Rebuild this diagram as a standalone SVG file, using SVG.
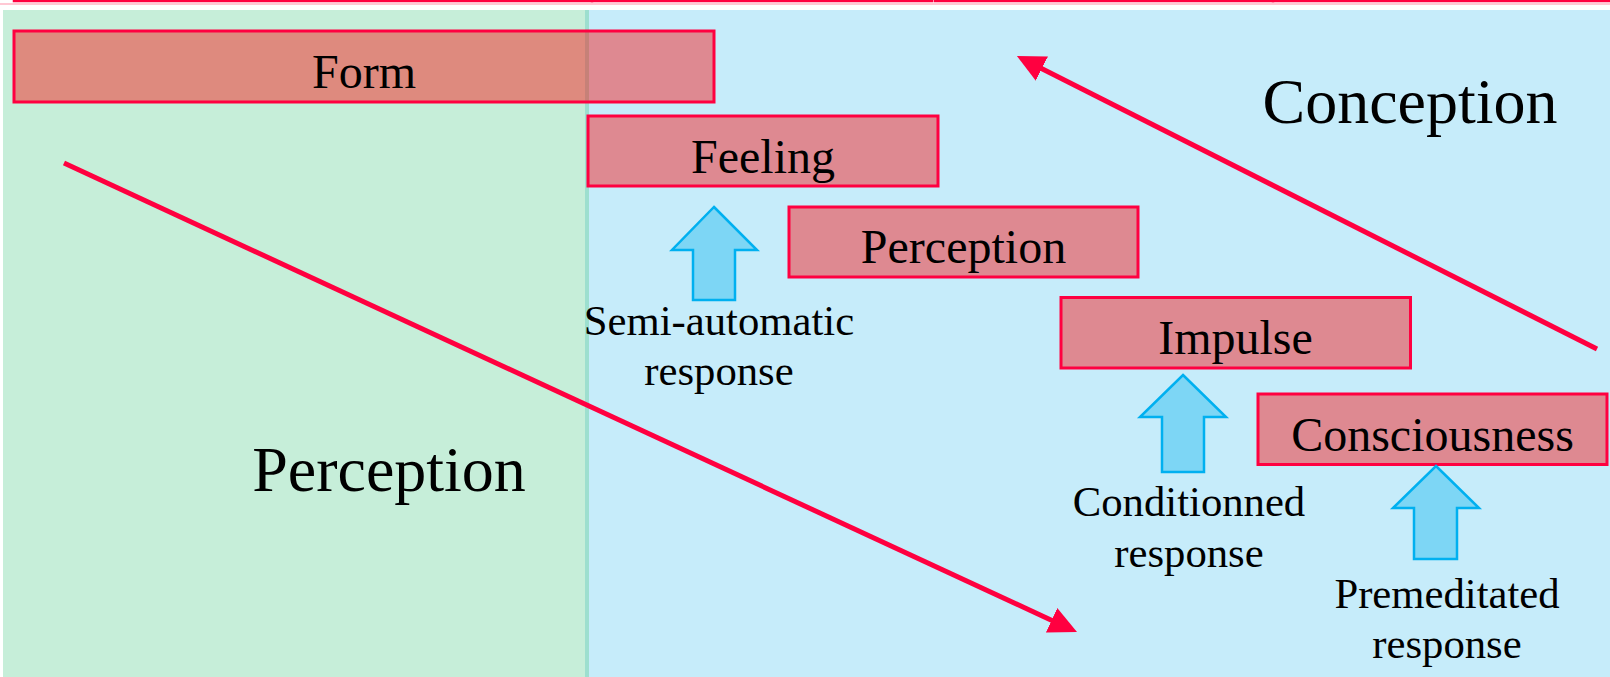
<svg xmlns="http://www.w3.org/2000/svg" width="1610" height="677" viewBox="0 0 1610 677">
  <style>
    .box { fill: #ff0000; fill-opacity: 0.42; stroke: #ff0040; stroke-width: 3; }
    .top { fill: none; stroke: #ff0040; stroke-width: 2.5; }
    .lbl { font-family: "Liberation Serif", "Times New Roman", serif; fill: #000; text-anchor: middle; }
    .n { font-size: 48px; }
    .big { font-size: 64px; }
    .sm { font-size: 42.7px; }
    .up { fill: #7dd6f5; stroke: #00b0f0; stroke-width: 2.5; stroke-linejoin: miter; }
    .flow { stroke: #ff0040; stroke-width: 5; fill: none; }
  </style>
  <defs>
    <marker id="head" markerUnits="userSpaceOnUse" markerWidth="28" markerHeight="27" viewBox="0 0 28 27" refX="1" refY="13.5" orient="auto">
      <path d="M0,0 L28,13.5 L0,27 z" fill="#ff0040"/>
    </marker>
  </defs>
  <rect width="1610" height="677" fill="#ffffff"/>
  <!-- top strip (cut-off row) -->
  <g id="top-strip">
    <rect x="0" y="3" width="1610" height="2" fill="#ffc8d4"/>
    <rect class="top" x="14" y="-60" width="578" height="61"/>
    <rect class="top" x="592" y="-60" width="340" height="61"/>
    <rect class="top" x="935" y="-60" width="338" height="61"/>
    <rect class="top" x="1273" y="-60" width="340" height="61"/>
  </g>
  <!-- panels -->
  <g id="panels">
    <rect x="3" y="10" width="585" height="667" fill="#c6eed9"/>
    <rect x="588" y="10" width="1022" height="667" fill="#c6ecfa"/>
    <rect x="585" y="10" width="4" height="667" fill="#9ddfcf"/>
  </g>
  <g id="label-perception">
    <text class="lbl big" x="389" y="491">Perception</text>
  </g>
  <g id="label-conception">
    <text class="lbl big" x="1410" y="123">Conception</text>
  </g>
  <g id="node-form">
    <rect class="box" x="14" y="31" width="700" height="71"/>
    <text class="lbl n" x="364" y="88">Form</text>
  </g>
  <g id="node-feeling">
    <rect class="box" x="588" y="116" width="350" height="70"/>
    <text class="lbl n" x="763" y="173">Feeling</text>
  </g>
  <g id="node-perception">
    <rect class="box" x="789" y="207" width="349" height="70"/>
    <text class="lbl n" x="963.5" y="263">Perception</text>
  </g>
  <g id="node-impulse">
    <rect class="box" x="1061" y="297.5" width="349.5" height="70.5"/>
    <text class="lbl n" x="1235.5" y="354">Impulse</text>
  </g>
  <g id="node-consciousness">
    <rect class="box" x="1258" y="394" width="349" height="70.5"/>
    <text class="lbl n" x="1432.5" y="451">Consciousness</text>
  </g>
  <g id="resp-semi">
    <polygon class="up" points="714,207 757,250 735,250 735,300 693,300 693,250 672,250"/>
    <text class="lbl sm" x="719" y="335">Semi-automatic</text>
    <text class="lbl sm" x="719" y="385">response</text>
  </g>
  <g id="resp-conditioned">
    <polygon class="up" points="1183,375 1226,417 1204,417 1204,472 1162,472 1162,417 1140,417"/>
    <text class="lbl sm" x="1189" y="516">Conditionned</text>
    <text class="lbl sm" x="1189" y="567">response</text>
  </g>
  <g id="resp-premeditated">
    <polygon class="up" points="1436,466 1479,508 1457,508 1457,559 1414,559 1414,508 1393,508"/>
    <text class="lbl sm" x="1447" y="608">Premeditated</text>
    <text class="lbl sm" x="1447" y="658">response</text>
  </g>
  <g id="connectors">
    <line class="flow" x1="64" y1="163" x2="1052.5" y2="620.7" marker-end="url(#head)"/>
    <line class="flow" x1="1597" y1="349" x2="1041" y2="68.2" marker-end="url(#head)"/>
  </g>
</svg>
